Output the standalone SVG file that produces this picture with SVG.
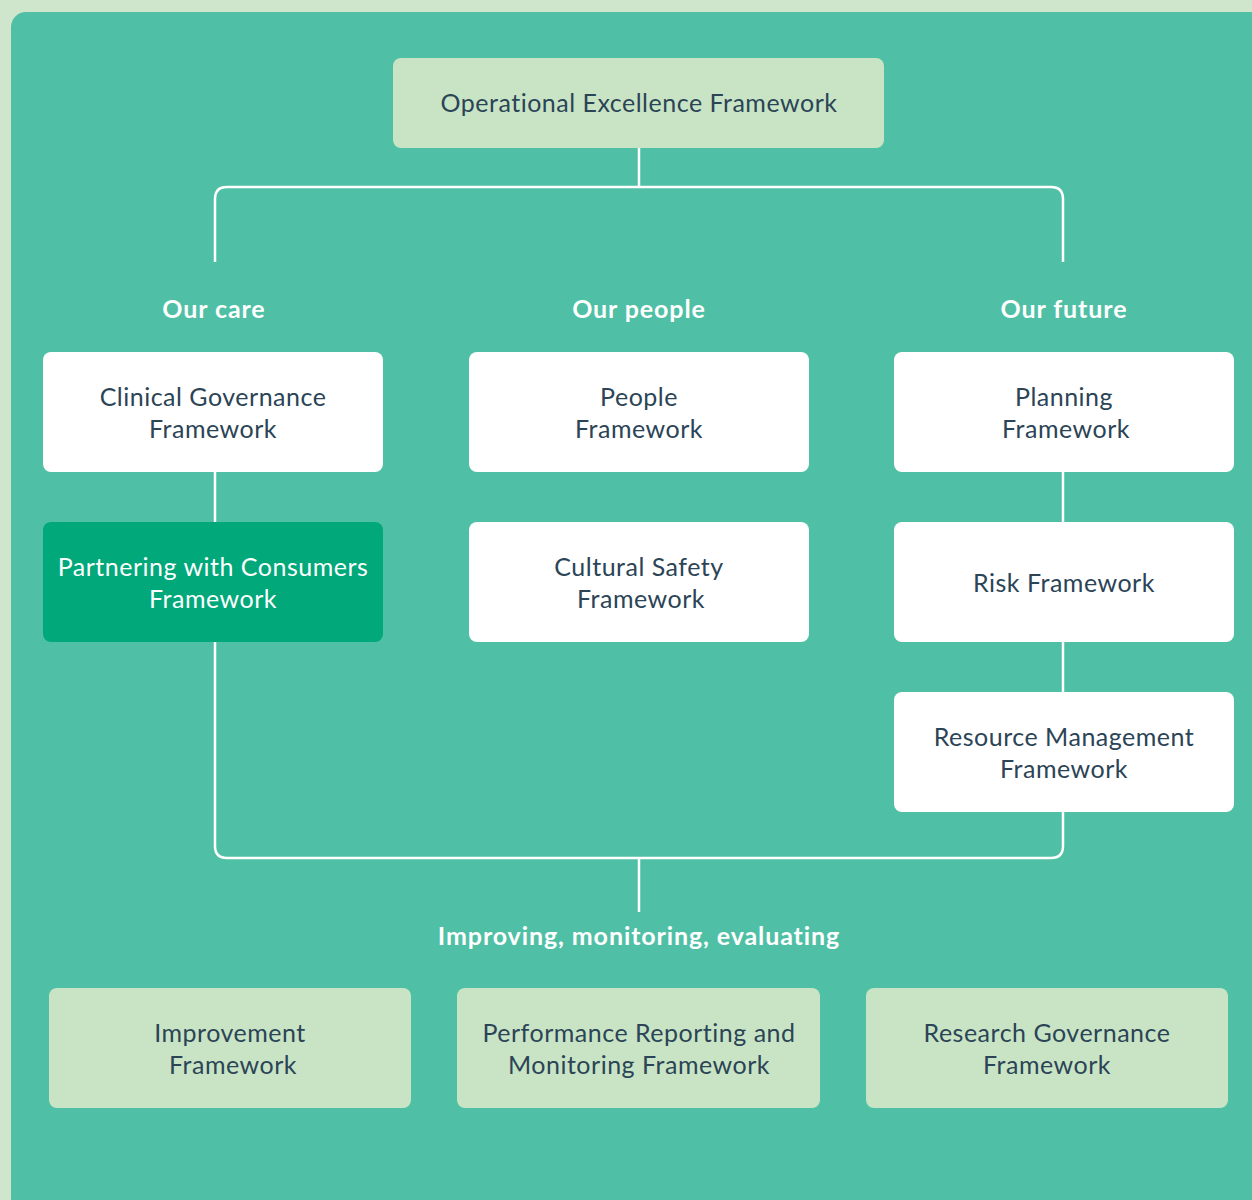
<svg xmlns="http://www.w3.org/2000/svg" width="1252" height="1200" viewBox="0 0 1252 1200">
<style>
.box{fill:#ffffff}
.lt{fill:#c9e4c5}
.dk{fill:#00a87a}
.t{font-family:Lato,"Open Sans",sans-serif;font-size:25px;letter-spacing:0.5px;fill:#2b4456;text-anchor:middle}
.tw{fill:#ffffff}
.h{font-family:Lato,"Open Sans",sans-serif;font-size:25px;letter-spacing:0.9px;font-weight:bold;fill:#ffffff;text-anchor:middle}
.c{fill:none;stroke:#ffffff;stroke-width:2.5}
</style>
<rect x="0" y="0" width="1252" height="1200" fill="#cfe6cc"/>
<rect x="11" y="12" width="1300" height="1250" rx="15" fill="#4fc0a5"/>
<g id="connectors">
<path class="c" d="M639 148 V187"/>
<path class="c" d="M215 262 V199 Q215 187 227 187 H1051 Q1063 187 1063 199 V262"/>
<path class="c" d="M215 472 V522"/>
<path class="c" d="M1063 472 V522"/>
<path class="c" d="M1063 642 V692"/>
<path class="c" d="M215 642 V846 Q215 858 227 858 H1051 Q1063 858 1063 846 V812"/>
<path class="c" d="M639 858 V912"/>
</g>
<g id="top"><rect class="lt" x="393" y="58" width="491" height="90" rx="8"/><text class="t" x="639" y="112">Operational Excellence Framework</text></g>
<g id="h-care"><text class="h" x="214" y="318">Our care</text></g>
<g id="h-people"><text class="h" x="639" y="318">Our people</text></g>
<g id="h-future"><text class="h" x="1064" y="318">Our future</text></g>
<g id="clinical"><rect class="box" x="43" y="352" width="340" height="120" rx="8"/><text class="t" x="213" y="406">Clinical Governance</text><text class="t" x="213" y="438">Framework</text></g>
<g id="people"><rect class="box" x="469" y="352" width="340" height="120" rx="8"/><text class="t" x="639" y="406">People</text><text class="t" x="639" y="438">Framework</text></g>
<g id="planning"><rect class="box" x="894" y="352" width="340" height="120" rx="8"/><text class="t" x="1064" y="406">Planning</text><text class="t" x="1066" y="438">Framework</text></g>
<g id="partnering"><rect class="dk" x="43" y="522" width="340" height="120" rx="8"/><text class="t tw" x="213" y="576">Partnering with Consumers</text><text class="t tw" x="213" y="608">Framework</text></g>
<g id="cultural"><rect class="box" x="469" y="522" width="340" height="120" rx="8"/><text class="t" x="639" y="576">Cultural Safety</text><text class="t" x="641" y="608">Framework</text></g>
<g id="risk"><rect class="box" x="894" y="522" width="340" height="120" rx="8"/><text class="t" x="1064" y="592">Risk Framework</text></g>
<g id="resource"><rect class="box" x="894" y="692" width="340" height="120" rx="8"/><text class="t" x="1064" y="746">Resource Management</text><text class="t" x="1064" y="778">Framework</text></g>
<g id="h-improving"><text class="h" x="639" y="945">Improving, monitoring, evaluating</text></g>
<g id="improvement"><rect class="lt" x="49" y="988" width="362" height="120" rx="8"/><text class="t" x="230" y="1042">Improvement</text><text class="t" x="233" y="1074">Framework</text></g>
<g id="performance"><rect class="lt" x="457" y="988" width="363" height="120" rx="8"/><text class="t" x="639" y="1042">Performance Reporting and</text><text class="t" x="639" y="1074">Monitoring Framework</text></g>
<g id="research"><rect class="lt" x="866" y="988" width="362" height="120" rx="8"/><text class="t" x="1047" y="1042">Research Governance</text><text class="t" x="1047" y="1074">Framework</text></g>
</svg>
